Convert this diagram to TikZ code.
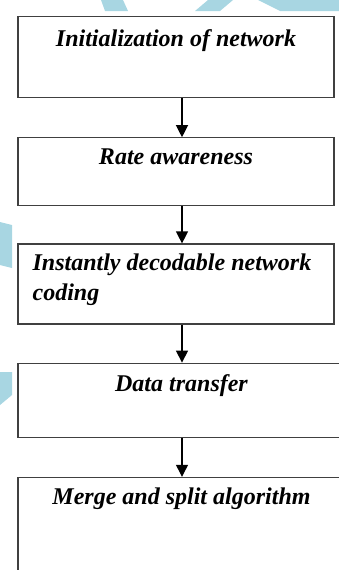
\documentclass[tikz,border=0pt]{standalone}
\usepackage{fontspec}
\setmainfont{Liberation Serif}
\usetikzlibrary{arrows.meta,positioning}
\definecolor{wmblue}{RGB}{168,214,226}
\tikzset{
    box/.style={draw=black!75, line width=1.2pt, minimum width=316pt, inner sep=0pt, anchor=north},
    title/.style={font=\fontsize{24}{30}\selectfont\bfseries\itshape, inner sep=0pt},
    arr/.style={line width=1.2pt, -{Triangle[length=12pt,width=12pt]}}
}
\begin{document}
\begin{tikzpicture}[x=1pt,y=1pt]
    \def\gap{6pt}
    \clip (0,0) rectangle (339,-570);

% watermark pieces
    \fill[wmblue] (101,0) -- (123,0) -- (128,-11) -- (105,-11) -- cycle;
    \fill[wmblue] (208,0) -- (233,0) -- (220,-11) -- (195,-11) -- cycle;
    \fill[wmblue] (258,0) -- (339,0) -- (339,-11) -- (280,-11) -- cycle;
    \fill[wmblue] (0,-222) -- (12,-225) -- (12,-268) -- (0,-265) -- cycle;
    \fill[wmblue] (0,-372) -- (12,-372) -- (12,-395) -- (0,-405) -- cycle;

% boxes
    \node[box, minimum height=81pt] (init) at (176,-16) {};
    \node[box, minimum height=68pt, below=39pt of init] (rate) {};
    \node[box, minimum height=80pt, below=37pt of rate] (idnc) {};
    \node[box, minimum width=327pt, minimum height=74pt, anchor=north west] (data) at ([yshift=-38pt]idnc.south west) {};
    \node[box, minimum width=327pt, minimum height=130pt, anchor=north west] (merge) at ([yshift=-39pt]data.south west) {};

% titles
    \node[title, anchor=base] (initT) at ([yshift=-30pt]init.north) {Initialization of network};
    \node[title, anchor=base] (rateT) at ([yshift=-27pt]rate.north) {Rate awareness};
    % base is the last line here
    \node[title, anchor=base west, align=left] (idncT) at ([xshift=15pt,yshift=-57pt]idnc.north west) {Instantly decodable network\\coding};
    \node[title, anchor=base] (dataT) at ([yshift=-29pt]data.north) {Data transfer};
    \node[title, anchor=base] (mergeT) at ([yshift=-28pt]merge.north) {Merge and split algorithm};

% arrows
    \draw[arr] ([xshift=\gap]init.south) -- ([xshift=\gap]init.south |- rate.north);
    \draw[arr] ([xshift=\gap]rate.south) -- ([xshift=\gap]rate.south |- idnc.north);
    \draw[arr] ([xshift=\gap]idnc.south) -- ([xshift=\gap]idnc.south |- data.north);
    \draw[arr] ([xshift=\gap]idnc.south |- data.south) -- ([xshift=\gap]idnc.south |- merge.north);
\end{tikzpicture}
\end{document}
